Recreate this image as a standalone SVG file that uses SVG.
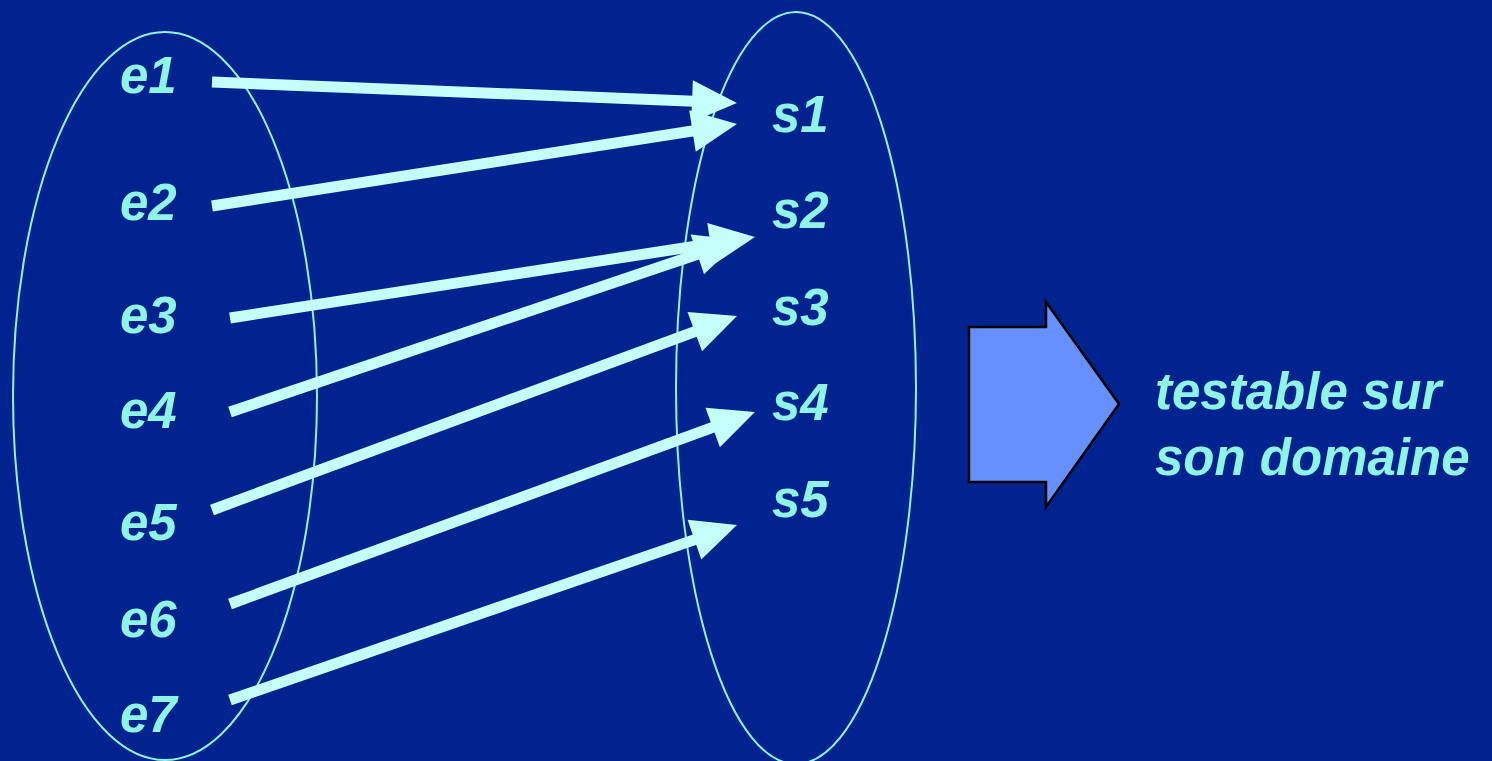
<svg xmlns="http://www.w3.org/2000/svg" width="1492" height="761" viewBox="0 0 1492 761">
  <style>
    .lbl { font-family: "Liberation Sans", Arial, sans-serif; font-weight: bold; font-style: italic; font-size: 51px; fill: #8ef4e6; }
    .set { fill: none; stroke: #8ef4e6; stroke-width: 2; }
    .map { stroke: #c4fffa; stroke-width: 11; fill: none; marker-end: url(#head); }
  </style>
  <defs>
    <marker id="head" markerUnits="userSpaceOnUse" markerWidth="60" markerHeight="50" refX="8" refY="21" orient="auto" overflow="visible">
      <path d="M0,0 L45,21 L0,42 Z" fill="#c4fffa"/>
    </marker>
  </defs>

  <rect width="1492" height="761" fill="#00238f"/>

  <!-- domain and codomain sets -->
  <g id="domain">
    <ellipse class="set" cx="165" cy="396" rx="152" ry="364"/>
    <text class="lbl" x="120" y="93">e1</text>
    <text class="lbl" x="120" y="220">e2</text>
    <text class="lbl" x="120" y="333">e3</text>
    <text class="lbl" x="120" y="428">e4</text>
    <text class="lbl" x="120" y="540">e5</text>
    <text class="lbl" x="120" y="637">e6</text>
    <text class="lbl" x="120" y="732">e7</text>
  </g>
  <g id="codomain">
    <ellipse class="set" cx="796" cy="388" rx="120" ry="376"/>
    <text class="lbl" x="772" y="132">s1</text>
    <text class="lbl" x="772" y="228">s2</text>
    <text class="lbl" x="772" y="325">s3</text>
    <text class="lbl" x="772" y="420">s4</text>
    <text class="lbl" x="772" y="517">s5</text>
  </g>

  <!-- mapping arrows: each line stops 37px short of its tip, the marker supplies the head -->
  <g id="connectors">
    <line class="map" x1="212" y1="82" x2="700.0" y2="101.5"/>
    <line class="map" x1="212" y1="206" x2="700.4" y2="129.7"/>
    <line class="map" x1="230" y1="318" x2="718.4" y2="242.6"/>
    <line class="map" x1="230" y1="412" x2="704.9" y2="251.8"/>
    <line class="map" x1="212" y1="510" x2="702.3" y2="328.8"/>
    <line class="map" x1="230" y1="604" x2="720.2" y2="424.7"/>
    <line class="map" x1="230" y1="700" x2="702.0" y2="537.1"/>
  </g>

  <!-- conclusion -->
  <g id="implies">
    <path d="M969,327 L1046,327 L1046,302 L1119,404 L1046,507 L1046,482 L969,482 Z" fill="#6690ff" stroke="#000" stroke-width="2.5" stroke-linejoin="miter"/>
  </g>
  <g id="result">
    <text class="lbl" x="1155" y="409">testable sur</text>
    <text class="lbl" x="1155" y="475">son domaine</text>
  </g>
</svg>
